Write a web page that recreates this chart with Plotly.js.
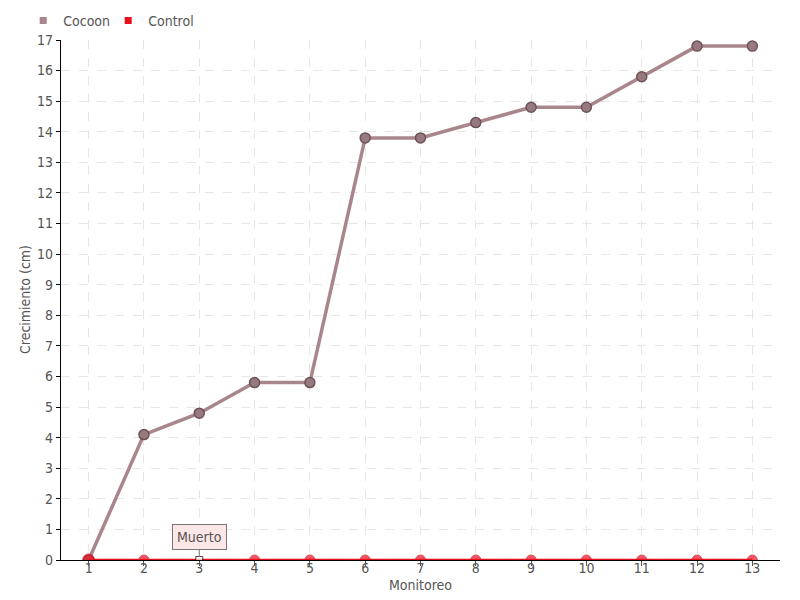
<!DOCTYPE html>
<html>
<head>
<meta charset="utf-8">
<script src="https://cdn.plot.ly/plotly-3.0.1.min.js"></script>
<style>html,body{margin:0;padding:0;background:#fff;}#chart{width:800px;height:600px;}</style>
</head>
<body>
<div id="chart"></div>
<script>
const monitoreo = [1,2,3,4,5,6,7,8,9,10,11,12,13];
const cocoon = [0,4.1,4.8,5.8,5.8,13.8,13.8,14.3,14.8,14.8,15.8,16.8,16.8];
const control = [0,0,0,0,0,0,0,0,0,0,0,0,0];
const yTicks = [0,1,2,3,4,5,6,7,8,9,10,11,12,13,14,15,16,17];
const noteIndex = 2;
const noteText = "Muerto";
const xTitle = "Monitoreo";
const yTitle = "Crecimiento (cm)";

const FONT = "'DejaVu Sans Condensed', 'Liberation Sans Narrow', sans-serif";
const TXT = '#555555';

const ctrlSymbols = control.map((v,i)=> i===noteIndex ? 'square' : 'circle');
const ctrlColors = control.map((v,i)=> i===noteIndex ? '#ffffff' : '#ee1020');
const ctrlLine = control.map((v,i)=> i===noteIndex ? '#000000' : '#c8101c');
const ctrlSizes = control.map((v,i)=> i===noteIndex ? 7 : (i===0 ? 12 : 10));

const traces = [
  {
    x: monitoreo, y: cocoon, name: 'Cocoon', type: 'scatter', mode: 'lines+markers', showlegend: false,
    line: {color: '#a8868b', width: 3.5},
    marker: {symbol: 'circle', color: '#967a80', size: 10, line: {color: '#6e5257', width: 1.5}}
  },
  {
    x: monitoreo, y: control, name: 'Control', type: 'scatter', mode: 'lines+markers', showlegend: false,
    line: {color: '#e8101e', width: 2.5},
    marker: {symbol: ctrlSymbols, color: ctrlColors, size: ctrlSizes, line: {color: ctrlLine, width: 1}}
  },
  // legend-only entries (square swatches like the reference)
  {x: [null], y: [null], name: 'Cocoon', type: 'scatter', mode: 'markers',
   marker: {symbol: 'square', color: '#a8868b', size: 7}},
  {x: [null], y: [null], name: 'Control', type: 'scatter', mode: 'markers',
   marker: {symbol: 'square', color: '#e8101e', size: 7}}
];

const layout = {
  width: 800, height: 600,
  margin: {l: 61, r: 20, t: 40, b: 40},
  paper_bgcolor: '#ffffff', plot_bgcolor: '#ffffff',
  font: {family: FONT, size: 14, color: TXT},
  showlegend: true,
  legend: {orientation: 'h', x: 0.029, xref: 'container', xanchor: 'left',
           y: 0.965, yref: 'container', yanchor: 'middle',
           font: {size: 14, color: TXT}, itemwidth: 30, entrywidth: 40,
           bgcolor: 'rgba(0,0,0,0)'},
  xaxis: {
    range: [0.5, 13.5], tickvals: monitoreo, ticktext: monitoreo.map(String),
    showgrid: true, gridcolor: '#e6e6e6', griddash: 'dash', gridwidth: 1,
    zeroline: false, showline: true, linecolor: '#000000', linewidth: 1,
    ticks: 'outside', ticklen: 5, tickcolor: '#555', tickfont: {size: 14, color: TXT},
    ticklabelstandoff: -10, layer: 'below traces'
  },
  yaxis: {
    range: [0, 17], tickvals: yTicks,
    showgrid: true, gridcolor: '#e6e6e6', griddash: 'dash', gridwidth: 1,
    zeroline: false, showline: true, linecolor: '#000000', linewidth: 1.2,
    ticks: 'outside', ticklen: 4, tickcolor: '#000', tickfont: {size: 14, color: TXT},
    layer: 'below traces'
  },
  annotations: [
    {
      x: monitoreo[noteIndex], y: control[noteIndex], xref: 'x', yref: 'y',
      text: noteText, showarrow: true, arrowhead: 0, arrowwidth: 1, arrowcolor: '#777',
      ax: 0, ay: -10, yanchor: 'bottom', standoff: 3,
      bgcolor: '#fde6e6', bordercolor: '#777777', borderwidth: 1, borderpad: 4,
      font: {family: FONT, size: 14, color: TXT}
    },
    {
      text: xTitle, xref: 'paper', yref: 'paper', x: 0.5, y: 0, yshift: -25,
      xanchor: 'center', yanchor: 'middle', showarrow: false,
      font: {family: FONT, size: 14, color: TXT}
    },
    {
      text: yTitle, xref: 'paper', yref: 'paper', x: 0, xshift: -36, y: 0.5,
      xanchor: 'center', yanchor: 'middle', textangle: -90, showarrow: false,
      font: {family: FONT, size: 14, color: TXT}
    }
  ]
};

Plotly.newPlot('chart', traces, layout, {displayModeBar: false, staticPlot: true});
</script>
</body>
</html>
